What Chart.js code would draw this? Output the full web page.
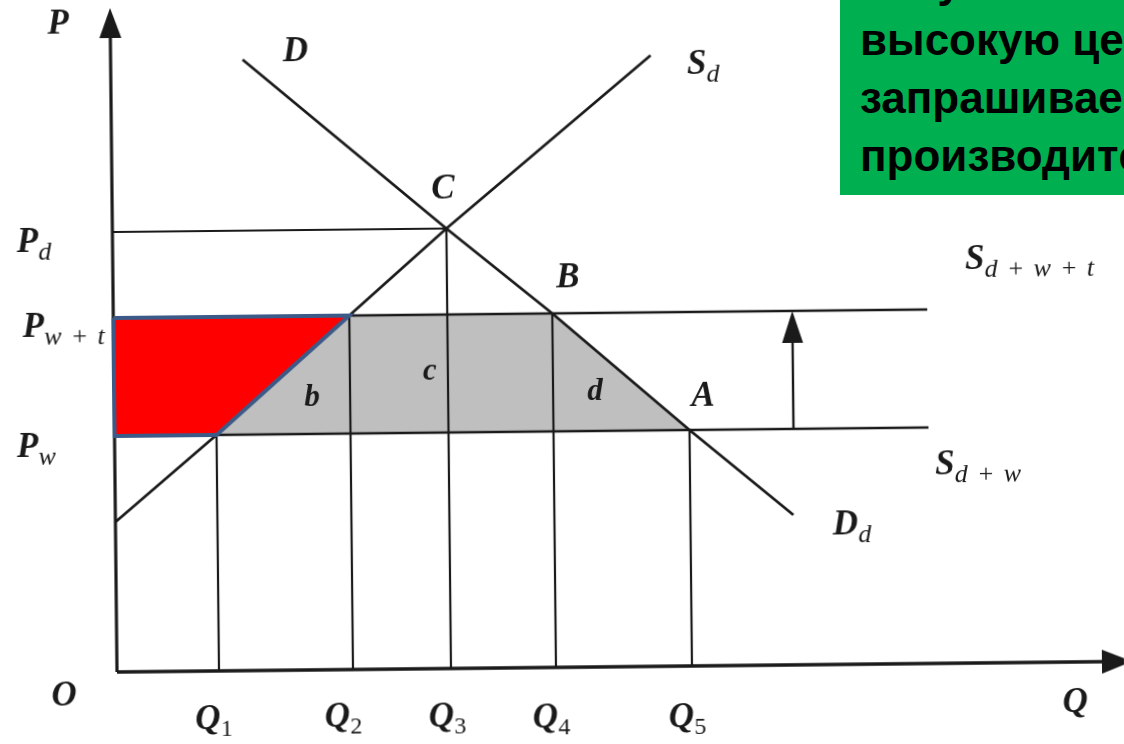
<!DOCTYPE html>
<html lang="ru">
<head>
<meta charset="utf-8">
<title>Пошлина: спрос и предложение</title>
<script src="https://cdn.jsdelivr.net/npm/chart.js@4.4.1/dist/chart.umd.min.js"></script>
<style>
  html, body { margin: 0; padding: 0; background: #fff; overflow: hidden; }
  #quadro { position: relative; width: 1124px; height: 744px; overflow: hidden; background: #fff; }
  #grafico { position: absolute; left: 0; top: 0; transform-origin: 117px 672px; transform: rotate(-0.6deg); filter: blur(0.4px); }
  #caixa {
    position: absolute; left: 840px; top: 0; width: 300px; height: 195px;
    background: #00b050; overflow: hidden; color: #000; white-space: nowrap;
    font: bold 44px/58px "Liberation Sans", Arial, sans-serif;
  }
  #caixa div { position: absolute; left: 20px; top: -47px; }
</style>
</head>
<body>
<div id="quadro">
  <canvas id="grafico" width="1124" height="744"></canvas>
  <div id="caixa"><div>могут назначить более<br>высокую цену,<br>запрашиваемую<br>производителями</div></div>
</div>
<script>
// Valores (1 unidade = 10 px do original)

const quantidades = [10.2, 23.6, 33.4, 43.9, 57.5];   // Q1..Q5
const precoMundial = 23.6;     // Pw
const precoTarifa = 35.4;      // Pw+t
const precoInterno = 44.0;     // Pd
const topoVerticais = [precoMundial, precoTarifa, precoInterno, precoTarifa, precoMundial];

const ofertaQ = [0, quantidades[0], quantidades[1], quantidades[2], 54.0];
const ofertaP = [15.0, precoMundial, precoTarifa, precoInterno, 61.1];
const demandaQ = [13.2, quantidades[2], quantidades[3], quantidades[4], 67.8];
const demandaP = [61.1, precoInterno, precoTarifa, precoMundial, 15.0];

const fimHorizontais = 81.4;
const setaQ = 67.9;
const fimEixoQ = 101.5;
const fimEixoP = 66.4;

// Rótulos (texto, índice, posição em unidades do gráfico)
const fino = '\u2009';
const rotulos = [
  { t: 'P', s: '', q: -5.2, p: 64.8 },
  { t: 'D', s: '', q: 18.5, p: 61.8 },
  { t: 'S', s: 'd', q: 58.6, p: 60.1 },
  { t: 'C', s: '', q: 33.1, p: 47.9 },
  { t: 'B', s: '', q: 45.5, p: 38.9 },
  { t: 'A', s: '', q: 58.9, p: 26.9 },
  { t: 'P', s: 'd', q: -8.5, p: 43.0 },
  { t: 'P', s: 'w' + fino + '+' + fino + 't', q: -8.0, p: 34.5 },
  { t: 'P', s: 'w', q: -8.7, p: 22.5 },
  { t: 'b', s: '', q: 19.8, p: 27.2 },
  { t: 'c', s: '', q: 31.6, p: 29.7 },
  { t: 'd', s: '', q: 48.1, p: 27.5 },
  { t: 'S', s: 'd' + fino + '+' + fino + 'w' + fino + '+' + fino + 't', q: 86.2, p: 40.3 },
  { t: 'S', s: 'd' + fino + '+' + fino + 'w', q: 83.0, p: 19.8 },
  { t: 'D', s: 'd', q: 73.0, p: 13.9 },
  { t: 'O', s: '', q: -5.3, p: -2.4 },
  { t: 'Q', s: '', q: 95.8, p: -4.1 },
  { t: 'Q', s: '1', q: 9.05, p: -4.9 },
  { t: 'Q', s: '2', q: 22.0, p: -4.8 },
  { t: 'Q', s: '3', q: 32.4, p: -4.9 },
  { t: 'Q', s: '4', q: 42.8, p: -5.1 },
  { t: 'Q', s: '5', q: 56.4, p: -5.2 }
];

function pontos(qs, ps) {
  return qs.map((q, i) => ({ x: q, y: ps[i] }));
}

function linha(qs, ps, largura) {
  return {
    data: pontos(qs, ps),
    showLine: true,
    borderColor: '#1a1a1a',
    borderWidth: largura,
    pointRadius: 0,
    fill: false,
    tension: 0,
    order: 2
  };
}

var datasets = [];

// área vermelha por cima de tudo
datasets.push({
  data: pontos([0, quantidades[1], quantidades[0], 0, 0], [precoTarifa, precoTarifa, precoMundial, precoMundial, precoTarifa]),
  showLine: true,
  borderColor: '#3c5a88',
  borderWidth: 4,
  borderJoinStyle: 'miter',
  backgroundColor: '#ff0000',
  pointRadius: 0,
  fill: 'shape',
  order: 1
});

// curvas, preços e quantidades
datasets.push(linha(ofertaQ, ofertaP, 2.8));
datasets.push(linha(demandaQ, demandaP, 2.8));
datasets.push(linha([0, fimHorizontais], [precoMundial, precoMundial], 2.6));
datasets.push(linha([0, fimHorizontais], [precoTarifa, precoTarifa], 2.6));
datasets.push(linha([0, quantidades[2]], [precoInterno, precoInterno], 2.2));
quantidades.forEach(function (q, i) {
  datasets.push(linha([q, q], [0, topoVerticais[i]], 2.2));
});
datasets.push(linha([setaQ, setaQ], [precoMundial, precoTarifa - 2], 2.4));
datasets.push(linha([0, fimEixoQ - 2], [0, 0], 3.4));
datasets.push(linha([0, 0], [0, fimEixoP - 2], 3.2));

// área cinza (b + c + d) por baixo
datasets.push({
  data: pontos([quantidades[0], quantidades[1], quantidades[3], quantidades[4], quantidades[0]], [precoMundial, precoTarifa, precoTarifa, precoMundial, precoMundial]),
  showLine: true,
  borderWidth: 0,
  borderColor: 'rgba(0,0,0,0)',
  backgroundColor: '#bfbfbf',
  pointRadius: 0,
  fill: 'shape',
  order: 3
});

function seta(ctx, x, y, dir, comp, larg) {
  ctx.beginPath();
  if (dir === 'cima') {
    ctx.moveTo(x, y);
    ctx.lineTo(x - larg / 2, y + comp);
    ctx.lineTo(x + larg / 2, y + comp);
  } else {
    ctx.moveTo(x, y);
    ctx.lineTo(x - comp, y - larg / 2);
    ctx.lineTo(x - comp, y + larg / 2);
  }
  ctx.closePath();
  ctx.fill();
}

var desenhos = {
  id: 'desenhos',
  afterDatasetsDraw: function (chart) {
    var ctx = chart.ctx;
    var sx = chart.scales.x, sy = chart.scales.y;
    ctx.save();
    ctx.fillStyle = '#1a1a1a';
    seta(ctx, sx.getPixelForValue(0), sy.getPixelForValue(fimEixoP), 'cima', 30, 22);
    seta(ctx, sx.getPixelForValue(fimEixoQ), sy.getPixelForValue(0), 'direita', 30, 24);
    seta(ctx, sx.getPixelForValue(setaQ), sy.getPixelForValue(precoTarifa), 'cima', 32, 21);

    rotulos.forEach(function (r) {
      var x = sx.getPixelForValue(r.q);
      var y = sy.getPixelForValue(r.p);
      var minuscula = r.t === r.t.toLowerCase();
      ctx.font = minuscula ? 'italic bold 31px "Liberation Serif"' : 'italic bold 35px "Liberation Serif"';
      ctx.textAlign = 'center';
      ctx.textBaseline = 'middle';
      ctx.fillStyle = '#1a1a1a';
      ctx.fillText(r.t, x, y);
      if (r.s) {
        var w = ctx.measureText(r.t).width;
        ctx.font = /\d/.test(r.s) ? '24px "Liberation Serif"' : 'italic 26px "Liberation Serif"';
        ctx.textAlign = 'left';
        ctx.letterSpacing = '2px';
        ctx.fillText(r.s, x + w / 2, y + 10);
        ctx.letterSpacing = '0px';
      }
    });
    ctx.restore();
  }
};

var ctxGrafico = document.getElementById('grafico').getContext('2d');

var grafico = new Chart(ctxGrafico, {
  type: 'scatter',
  data: { datasets: datasets },
  options: {
    responsive: false,
    animation: false,
    layout: { padding: 0 },
    plugins: {
      legend: { display: false },
      tooltip: { enabled: false }
    },
    scales: {
      x: { type: 'linear', min: -11.7, max: 100.7, display: false },
      y: { type: 'linear', min: -7.2, max: 67.2, display: false }
    }
  },
  plugins: [desenhos]
});
</script>
</body>
</html>
